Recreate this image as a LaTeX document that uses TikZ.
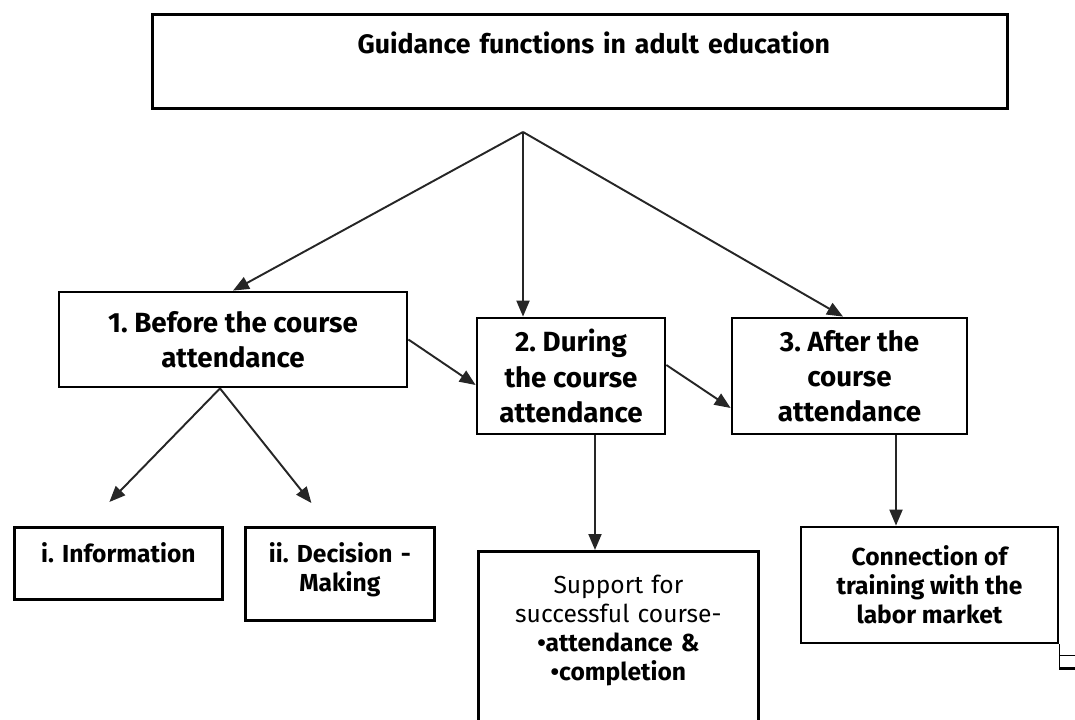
\documentclass[tikz,border=0pt]{standalone}
\usepackage{fontspec}
\setmainfont{Fira Sans}
\frenchspacing
\usetikzlibrary{arrows.meta, positioning, calc}
\tikzset{
  >={Triangle[length=3.2mm,width=2.6mm]},
  box/.style={draw=black, line width=1.6pt, inner sep=0pt, align=center, text=black},
  link/.style={->, draw=black!85, line width=1.1pt},
}
\newcommand{\bigtxt}{\fontsize{15.8}{20}\selectfont\bfseries}
\newcommand{\smalltxt}{\fontsize{14}{16.5}\selectfont\bfseries}

\begin{document}
\begin{tikzpicture}[x=0.02cm, y=-0.02cm]
\useasboundingbox (0,0) rectangle (1075,720);
\clip (0,0) rectangle (1075,720);

% ===================== title =====================
\node[box, anchor=north west, text width=17.1cm, text height=0.78cm, text depth=1.1cm, font=\fontsize{15.2}{20}\selectfont\bfseries] (title) at (151,13)
     {\hspace*{0.56cm}Guidance functions in adult education};
\coordinate (fork) at (523,132);

% ===================== the three stages =====================
\node[box, minimum width=6.96cm, minimum height=1.9cm, font=\bigtxt] (before) at (233,339.5)
     {1. Before the course\\attendance};
\node[box, minimum width=3.76cm, minimum height=2.32cm, font=\bigtxt] (during) at (571,376)
     {2. During\\the course\\attendance};
\node[box, minimum width=4.7cm, minimum height=2.32cm, font=\bigtxt] (after) at (849.5,376)
     {3. After the\\course\\attendance};

% ===================== functions of each stage =====================
\node[box, anchor=north west, text width=4.16cm, text height=0.7cm, text depth=0.74cm, font=\smalltxt] (info) at (13,526)
     {i. Information};
\node[box, anchor=north west, text width=3.78cm, text height=0.7cm, text depth=1.16cm, font=\smalltxt] (decide) at (244,526)
     {ii. Decision -\\Making};
\node[box, anchor=north west, text width=5.6cm, text height=0.84cm, text depth=2.96cm, font=\smalltxt] (support) at (477,550)
     {\mdseries Support for\\\mdseries successful course-\\\bfseries •attendance \&\\•completion};
\node[box, minimum width=5.14cm, minimum height=2.32cm, font=\smalltxt] (connect) at (929.5,585)
     {Connection of\\training with the\\labor market};

% ===================== links =====================
\draw[link] (fork) -- (before.north);
\draw[link] (fork) -- (fork |- during.north);
\draw[link] (fork) -- ([xshift=-0.13cm]after.north);
\draw[link] (before.east) -- ([yshift=-0.18cm]during.west);
\draw[link] ([yshift=0.22cm]during.east) -- ([yshift=-0.64cm]after.west);
\draw[link] ([xshift=-0.26cm]before.south) -- ($(info.north)+(-9,-24)$);
\draw[link] ([xshift=-0.26cm]before.south) -- ($(decide.north)+(-28.5,-23)$);
\draw[link] ([xshift=0.48cm]during.south) -- ([xshift=0.48cm]during.south |- support.north);
\draw[link] ([xshift=0.93cm]after.south) -- ([xshift=0.93cm]after.south |- connect.north);

% stray corner at the right edge
\draw[line width=0.5pt] (connect.south east) -- ++(0,24);
\draw[line width=0.5pt] ($(connect.south east)+(0,11)$) -- ++(20,0);
\draw[line width=1.6pt] ($(connect.south east)+(0,24)$) -- ++(20,0);

\end{tikzpicture}
\end{document}
